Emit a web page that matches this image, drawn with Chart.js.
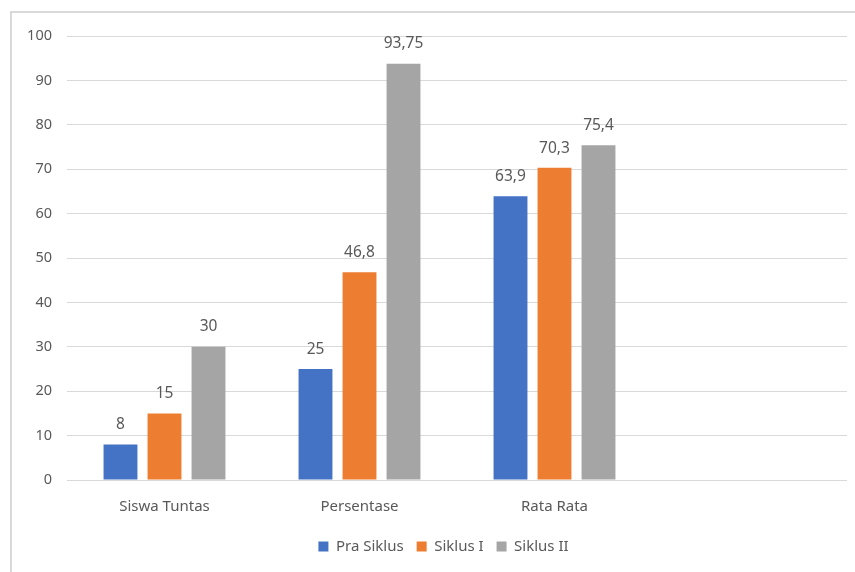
<!DOCTYPE html>
<html>
<head>
<meta charset="utf-8">
<script src="https://cdn.jsdelivr.net/npm/chart.js@4"></script>
<style>
  html, body { margin:0; padding:0; background:#fff; overflow:hidden; }
  #frame { position:absolute; left:10px; top:11px; width:900px; height:600px; border-left:2px solid #d9d9d9; border-top:2px solid #d9d9d9; }
  #chart { position:absolute; left:0; top:0; }
</style>
</head>
<body>
<div id="frame"></div>
<canvas id="chart" width="855" height="572"></canvas>
<script>
// Data
const categories = ['Siswa Tuntas', 'Persentase', 'Rata Rata', ''];
const praSiklus = [8, 25, 63.9];
const siklusI = [15, 46.8, 70.3];
const siklusII = [30, 93.75, 75.4];
const seriesNames = ['Pra Siklus', 'Siklus I', 'Siklus II'];
const yTicks = [0, 10, 20, 30, 40, 50, 60, 70, 80, 90, 100];

const textColor = '#595959';
const fontFamily = '"Noto Sans", "Open Sans", sans-serif';

// value labels above bars, comma decimal like the original
const valueLabels = {
    id: 'valueLabels',
    afterDatasetsDraw(chart) {
        const ctx = chart.ctx;
        ctx.save();
        ctx.fillStyle = textColor;
        ctx.font = '15.5px ' + fontFamily;
        ctx.textAlign = 'center';
        ctx.textBaseline = 'bottom';
        chart.data.datasets.forEach((ds, i) => {
            chart.getDatasetMeta(i).data.forEach((bar, j) => {
                const v = ds.data[j];
                if (v === undefined) return;
                ctx.fillText(String(v).replace('.', ','), bar.x, bar.y - 12);
            });
        });
        ctx.restore();
    }
};

// legend in the original sits a bit right of centre
const legendShift = {
    id: 'legendShift',
    afterLayout(chart) {
        chart.legend.left += 20;
        chart.legend.right += 20;
    }
};

new Chart(document.getElementById('chart'), {
    type: 'bar',
    data: {
        labels: categories,
        datasets: [
            { label: seriesNames[0], data: praSiklus, backgroundColor: '#4472C4' },
            { label: seriesNames[1], data: siklusI, backgroundColor: '#ED7D31' },
            { label: seriesNames[2], data: siklusII, backgroundColor: '#A5A5A5' }
        ]
    },
    options: {
        responsive: false,
        animation: false,
        devicePixelRatio: 1,
        layout: { padding: { top: 36, right: 8, bottom: 8, left: 0 } },
        datasets: { bar: { categoryPercentage: 0.677, barPercentage: 0.77 } },
        plugins: {
            tooltip: { enabled: false },
            legend: {
                position: 'bottom',
                labels: { color: textColor, boxWidth: 10, boxHeight: 10, padding: 13, font: { family: fontFamily, size: 15 } }
            }
        },
        scales: {
            x: {
                grid: { display: false },
                border: { display: false },
                ticks: { color: textColor, padding: 10, font: { family: fontFamily, size: 15 } },
                afterFit(s) { s.height = 46; }
            },
            y: {
                min: 0, max: 100,
                afterBuildTicks(s) { s.ticks = yTicks.map(v => ({ value: v })); },
                grid: { color: '#d9d9d9', lineWidth: 1, drawTicks: false },
                border: { display: false },
                ticks: { color: textColor, padding: 15, font: { family: fontFamily, size: 14.5 } },
                afterFit(s) { s.width = 67; }
            }
        }
    },
    plugins: [valueLabels, legendShift]
});
</script>
</body>
</html>
